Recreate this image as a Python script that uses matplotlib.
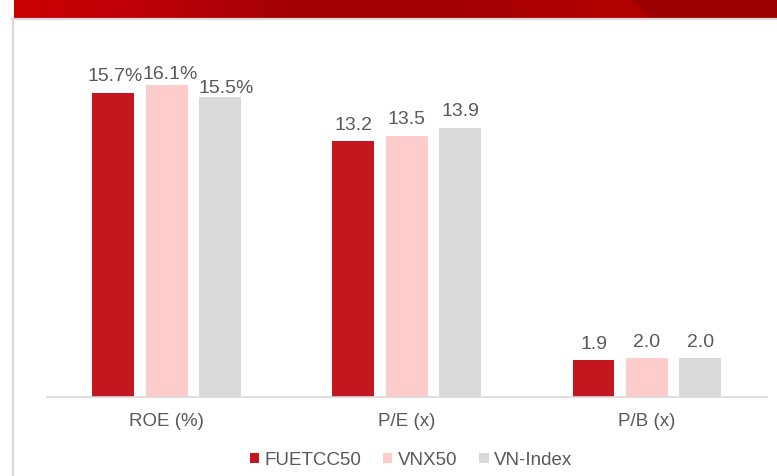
import matplotlib
matplotlib.use("Agg")
import matplotlib.pyplot as plt
import numpy as np
from matplotlib.colors import LinearSegmentedColormap
from matplotlib.patches import Polygon, Patch
from matplotlib.lines import Line2D

plt.rcParams['font.family'] = ['Liberation Sans', 'DejaVu Sans']

# ---- data ----
categories = ["ROE (%)", "P/E (x)", "P/B (x)"]
series_names = ["FUETCC50", "VNX50", "VN-Index"]
fuetcc50 = [15.7, 13.2, 1.9]
vnx50 = [16.1, 13.5, 2.0]
vnindex = [15.5, 13.9, 2.0]
label_suffix = ["%", "", ""]

colors = ["#C3161F", "#FFCCCC", "#D9D9D9"]
text_color = "#595959"

W, H = 777, 477
fig = plt.figure(figsize=(W / 100, H / 100), dpi=100)
fig.patch.set_facecolor("white")

# ---- banner ----
bax = fig.add_axes([14 / W, 1 - 19 / H, (W - 14) / W, 19 / H])
cmap = LinearSegmentedColormap.from_list(
    "ban", [(0.0, "#C80000"), (0.12, "#C40008"), (0.35, "#A40005"),
            (0.55, "#A20004"), (0.8, "#B30000"), (1.0, "#B00000")])
grad = np.linspace(0, 1, 256).reshape(1, -1)
bax.imshow(grad, aspect="auto", cmap=cmap, extent=[14, W, 0, 19])
bax.add_patch(Polygon([[631, 19], [W, 19], [W, 0], [650, 0]], closed=True,
                      facecolor="#9C0000", edgecolor="none"))
bax.set_xlim(14, W)
bax.set_ylim(0, 19)
bax.axis("off")

# frame lines
fig.add_artist(Line2D([12 / W, 1], [1 - 20 / H, 1 - 20 / H], color="#DADADA",
                      lw=1.6, transform=fig.transFigure))
fig.add_artist(Line2D([13 / W, 13 / W], [0, 1 - 20 / H], color="#DADADA",
                      lw=1.6, transform=fig.transFigure))

# ---- chart ----
left, right = 46.7 / W, 767 / W
bottom, top = 1 - 398 / H, 1 - 25 / H
ax = fig.add_axes([left, bottom, right - left, top - bottom])
px_per_unit = 19.37
ax.set_ylim(0, (398 - 25) / px_per_unit)
ax.set_xlim(-0.5, 2.5)

x = np.arange(len(categories))
bw = 0.1746
off = 0.2225
all_series = [fuetcc50, vnx50, vnindex]

# label nudges (points) for crowded ROE labels: (series, category) -> (dx, dy)
nudges = {(0, 0): (1.2, 9.1), (1, 0): (2.5, 4.8), (2, 0): (4.0, 3.2)}

for i, (vals, c) in enumerate(zip(all_series, colors)):
    xs = x + (i - 1) * off
    ax.bar(xs, vals, width=bw, color=c, edgecolor="none", zorder=2)
    for j, (xx, v) in enumerate(zip(xs, vals)):
        dx, dy = nudges.get((i, j), (0, 9.1))
        ax.annotate(f"{v:.1f}{label_suffix[j]}", (xx, v), xytext=(dx, dy),
                    textcoords="offset points", ha="center", va="baseline",
                    fontsize=14, color=text_color)

for s in ["top", "right", "left"]:
    ax.spines[s].set_visible(False)
ax.spines["bottom"].set_color("#D9D9D9")
ax.spines["bottom"].set_linewidth(1.2)
ax.set_yticks([])
ax.set_xticks(x)
ax.set_xticklabels(categories, fontsize=13.5, color=text_color)
ax.tick_params(axis="x", length=0, pad=11)
ax.set_facecolor("none")

handles = [Patch(facecolor=c, edgecolor="none", label=n) for c, n in zip(colors, series_names)]
fig.legend(handles=handles, loc="center", ncol=3,
           bbox_to_anchor=(411 / W, 1 - 461 / H),
           bbox_transform=fig.transFigure, frameon=False, fontsize=13.5,
           handlelength=0.5, handleheight=0.5, handletextpad=0.3,
           columnspacing=1.15, labelcolor=text_color, borderpad=0)

fig.savefig("out.png", dpi=100, facecolor="white")
